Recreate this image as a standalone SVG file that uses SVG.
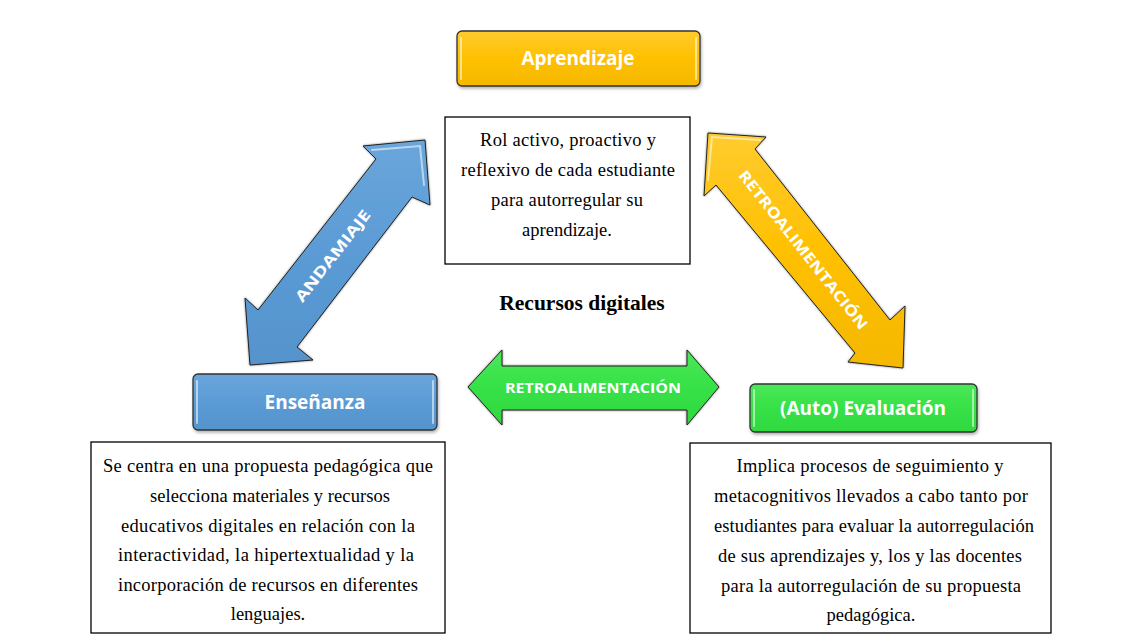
<svg xmlns="http://www.w3.org/2000/svg" width="1136" height="641" viewBox="0 0 1136 641">
<defs>
<linearGradient id="gOr" x1="0" y1="0" x2="0" y2="1"><stop offset="0" stop-color="#FFCB2E"/><stop offset="0.5" stop-color="#FFC000"/><stop offset="1" stop-color="#F5B800"/></linearGradient>
<linearGradient id="gBl" x1="0" y1="0" x2="0" y2="1"><stop offset="0" stop-color="#6AA6DB"/><stop offset="0.5" stop-color="#5B9BD5"/><stop offset="1" stop-color="#5593CC"/></linearGradient>
<linearGradient id="gGr" x1="0" y1="0" x2="0" y2="1"><stop offset="0" stop-color="#4BE85A"/><stop offset="0.5" stop-color="#36E146"/><stop offset="1" stop-color="#30D840"/></linearGradient>
<filter id="sh" x="-10%" y="-10%" width="120%" height="130%"><feDropShadow dx="1" dy="2" stdDeviation="1.5" flood-color="#000" flood-opacity="0.3"/></filter>
<filter id="glow" x="-20%" y="-20%" width="140%" height="140%"><feDropShadow dx="0" dy="0" stdDeviation="1.2" flood-color="#000" flood-opacity="0.5"/></filter>
</defs>
<style>
.tb{fill:#fff;stroke:#000;stroke-width:1.3}
.bt{font-family:"Liberation Serif","Times New Roman",serif;font-size:18.5px;fill:#000;text-anchor:middle}
.hd{font-family:"Open Sans","Liberation Sans",sans-serif;font-weight:bold;font-size:19px;fill:#fff;text-anchor:middle}
.al{font-family:"Open Sans","Liberation Sans",sans-serif;font-weight:bold;font-size:15px;fill:#fff;text-anchor:middle}
.btn{stroke:#333;stroke-width:1.3}
.hl{fill:none;stroke:#fff;stroke-opacity:0.55;stroke-width:2;stroke-linecap:round}
.arr{stroke:#222;stroke-width:1}
</style>
<rect width="1136" height="641" fill="#fff"/>

<g id="connectors">
<g id="andamiaje">
<polygon class="arr" fill="url(#gBl)" filter="url(#glow)" points="425,140 430,205 412,197 297,347 313,360 250,365 245,298 258,310 376,159 363,146"/>
<polyline class="hl" points="372,150 420,146 424,185"/>
<text class="al" transform="translate(333,256) rotate(-52)" y="5" textLength="112" lengthAdjust="spacingAndGlyphs">ANDAMIAJE</text>
</g>
<g id="retro-diag">
<polygon class="arr" fill="url(#gOr)" filter="url(#glow)" points="708,133 766,137 755,149 890,320 905,306 903,368 848,362 855,353 716,185 704,196"/>
<polyline class="hl" stroke="#FFF59A" points="760,140 712,137 708,180"/>
<text class="al" transform="translate(803,250) rotate(51.7)" y="5" textLength="198" lengthAdjust="spacingAndGlyphs">RETROALIMENTACIÓN</text>
</g>
<g id="retro-horiz">
<polygon class="arr" fill="url(#gGr)" filter="url(#glow)" points="468,387 502,350 502,366 687,366 687,350 719,387 687,425 687,410 502,410 502,425"/>
<text class="al" x="593" y="393" textLength="176" lengthAdjust="spacingAndGlyphs">RETROALIMENTACIÓN</text>
</g>
</g>

<g id="aprendizaje">
<rect class="btn" x="457" y="31" width="243" height="55" rx="5" fill="url(#gOr)" filter="url(#sh)"/>
<line class="hl" stroke="#FFF3A0" x1="461" y1="38" x2="461" y2="79"/>
<line class="hl" stroke="#FFF3A0" x1="696" y1="38" x2="696" y2="79"/>
<text class="hd" x="578" y="65">Aprendizaje</text>
</g>

<g id="rol">
<rect class="tb" x="445" y="117" width="245" height="147"/>
<text class="bt" x="568" y="146" textLength="176" lengthAdjust="spacing">Rol activo, proactivo y</text>
<text class="bt" x="568" y="176" textLength="214" lengthAdjust="spacing">reflexivo de cada estudiante</text>
<text class="bt" x="567" y="206" textLength="152" lengthAdjust="spacing">para autorregular su</text>
<text class="bt" x="567" y="236">aprendizaje.</text>
</g>

<g id="recursos">
<text x="582" y="310" font-family="'Liberation Serif','Times New Roman',serif" font-weight="bold" font-size="21.5px" text-anchor="middle">Recursos digitales</text>
</g>

<g id="ensenanza">
<rect class="btn" x="193" y="374" width="244" height="56" rx="5" fill="url(#gBl)" filter="url(#sh)"/>
<line class="hl" x1="197" y1="381" x2="197" y2="423"/>
<line class="hl" x1="433" y1="381" x2="433" y2="423"/>
<text class="hd" x="315" y="409">Enseñanza</text>
</g>

<g id="evaluacion">
<rect class="btn" x="750" y="384" width="227" height="48" rx="5" fill="url(#gGr)" filter="url(#sh)"/>
<line class="hl" x1="754" y1="390" x2="754" y2="426"/>
<line class="hl" x1="973" y1="390" x2="973" y2="426"/>
<text class="hd" x="863" y="415">(Auto) Evaluación</text>
</g>

<g id="centra">
<rect class="tb" x="91" y="442" width="354" height="191"/>
<text class="bt" x="268" y="472" textLength="330" lengthAdjust="spacing">Se centra en una propuesta pedagógica que</text>
<text class="bt" x="270" y="502" textLength="240" lengthAdjust="spacing">selecciona materiales y recursos</text>
<text class="bt" x="268" y="532" textLength="294" lengthAdjust="spacing">educativos digitales en relación con la</text>
<text class="bt" x="266" y="561" textLength="296" lengthAdjust="spacing">interactividad, la hipertextualidad y la</text>
<text class="bt" x="268" y="591" textLength="300" lengthAdjust="spacing">incorporación de recursos en diferentes</text>
<text class="bt" x="268" y="620">lenguajes.</text>
</g>

<g id="implica">
<rect class="tb" x="690" y="443" width="361" height="190"/>
<text class="bt" x="870" y="472" textLength="267" lengthAdjust="spacing">Implica procesos de seguimiento y</text>
<text class="bt" x="871" y="502" textLength="314" lengthAdjust="spacing">metacognitivos llevados a cabo tanto por</text>
<text class="bt" x="874" y="532" textLength="320" lengthAdjust="spacing">estudiantes para evaluar la autorregulación</text>
<text class="bt" x="870" y="562" textLength="304" lengthAdjust="spacing">de sus aprendizajes y, los y las docentes</text>
<text class="bt" x="871" y="592" textLength="300" lengthAdjust="spacing">para la autorregulación de su propuesta</text>
<text class="bt" x="871" y="621">pedagógica.</text>
</g>
</svg>
